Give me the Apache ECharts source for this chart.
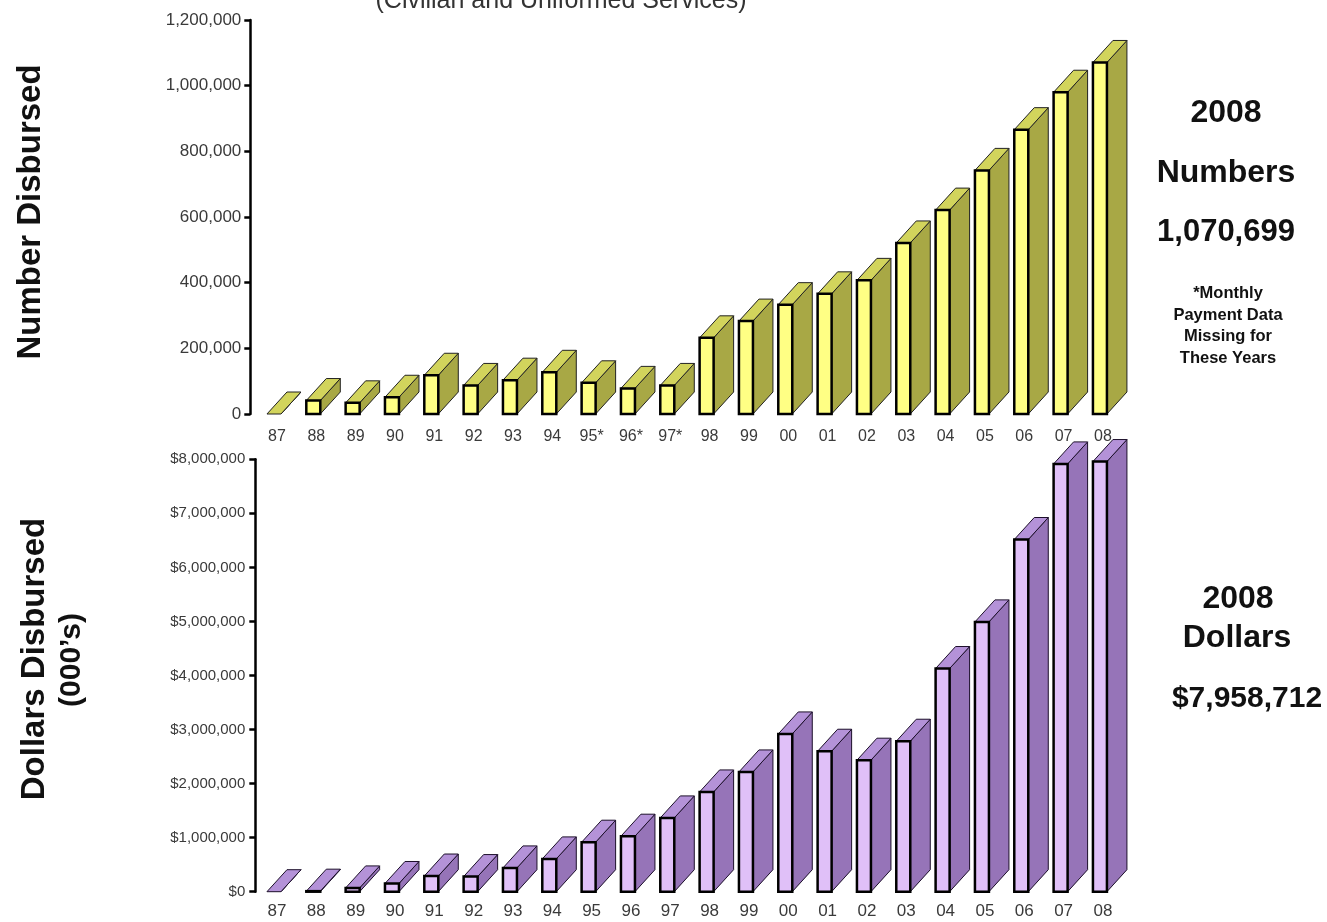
<!DOCTYPE html>
<html>
<head>
<meta charset="utf-8">
<script src="https://cdn.jsdelivr.net/npm/echarts@6/dist/echarts.min.js"></script>
<style>
  html, body { margin: 0; padding: 0; background: #fff; }
  #chart { width: 1327px; height: 922px; }
</style>
</head>
<body>
<div id="chart"></div>
<script>
// Fiscal years shown on both panels
const numberYearLabels = ['87','88','89','90','91','92','93','94','95*','96*','97*','98','99','00','01','02','03','04','05','06','07','08'];
const dollarYearLabels = ['87','88','89','90','91','92','93','94','95','96','97','98','99','00','01','02','03','04','05','06','07','08'];

// Number of disbursements per year
const numbersDisbursed = [0, 41000, 34000, 51000, 118000, 87000, 103000, 127000, 95000, 78000, 87000,
  232000, 283000, 333000, 366000, 407000, 521000, 621000, 742000, 866000, 980000, 1070699];

// Dollars disbursed per year (000's)
const dollarsDisbursed = [0, 10000, 70000, 152000, 290000, 280000, 440000, 607000, 916000, 1027000, 1365000,
  1846000, 2216000, 2919000, 2599000, 2433000, 2784000, 4129000, 4992000, 6516000, 7915000, 7958712];

// Value-axis tick labels
const numberTicks = ['0', '200,000', '400,000', '600,000', '800,000', '1,000,000', '1,200,000'];
const dollarTicks = ['$0', '$1,000,000', '$2,000,000', '$3,000,000', '$4,000,000', '$5,000,000', '$6,000,000', '$7,000,000', '$8,000,000'];

const FONT = '"Liberation Sans", Arial, sans-serif';
const DX = 20, DY = -22;        // depth of the extruded boxes
const FRONT_L = -10, FRONT_R = 4; // front face extent around the category centre

function boxRenderer(palette) {
  return function (params, api) {
    const i = api.value(0);
    const v = api.value(1);
    const base = api.coord([i, 0]);
    const top = api.coord([i, v]);
    const xl = base[0] + FRONT_L, xr = base[0] + FRONT_R;
    const yb = base[1], yt = top[1];
    const children = [
      { type: 'polygon',
        shape: { points: [[xr, yb], [xr, yt], [xr + DX, yt + DY], [xr + DX, yb + DY]] },
        style: { fill: palette.side, stroke: palette.edge, lineWidth: 1 } },
      { type: 'polygon',
        shape: { points: [[xl, yt], [xr, yt], [xr + DX, yt + DY], [xl + DX, yt + DY]] },
        style: { fill: palette.top, stroke: palette.edge, lineWidth: 1 } }
    ];
    if (v > 0) {
      children.push({ type: 'rect',
        shape: { x: xl, y: yt, width: xr - xl, height: yb - yt },
        style: { fill: palette.front, stroke: '#000', lineWidth: 2.5 } });
    }
    return { type: 'group', children: children };
  };
}

const yellow = { front: '#FFFF84', side: '#A8A845', top: '#D2D45C', edge: '#222' };
const purple = { front: '#E0C0F8', side: '#9674B8', top: '#B492D8', edge: '#1c0f2a' };

function labelStyle(size) {
  return { color: '#3a3a3a', fontSize: size, fontFamily: FONT };
}

function bigText(x, y, text, size) {
  return { type: 'text', x: x, y: y,
    style: { text: text, font: 'bold ' + size + 'px ' + FONT, fill: '#111', align: 'center', verticalAlign: 'middle' } };
}

function sideTitle(x, y, text, size) {
  return { type: 'text', x: x, y: y, rotation: Math.PI / 2,
    style: { text: text, font: 'bold ' + size + 'px ' + FONT, fill: '#111', align: 'center', verticalAlign: 'middle' } };
}

const chart = echarts.init(document.getElementById('chart'), null, { renderer: 'canvas' });

chart.setOption({
  backgroundColor: '#fff',
  animation: false,
  grid: [
    { left: 257.3, width: 865.3, top: 20, height: 394 },
    { left: 257.3, width: 865.3, top: 459.3, height: 432.4 }
  ],
  xAxis: [
    { type: 'category', gridIndex: 0, data: numberYearLabels,
      axisLine: { show: false }, axisTick: { show: false },
      axisLabel: Object.assign({ margin: 14.5, interval: 0 }, labelStyle(16)) },
    { type: 'category', gridIndex: 1, data: dollarYearLabels,
      axisLine: { show: false }, axisTick: { show: false },
      axisLabel: Object.assign({ margin: 11.5, interval: 0 }, labelStyle(17)) }
  ],
  yAxis: [
    { type: 'value', gridIndex: 0, min: 0, max: 1200000, interval: 200000, offset: 7,
      axisLine: { show: true, lineStyle: { color: '#000', width: 2.5 } },
      axisTick: { show: true, length: 6, lineStyle: { color: '#000', width: 2.5 } },
      splitLine: { show: false },
      axisLabel: Object.assign({ margin: 9,
        formatter: v => numberTicks[Math.round(v / 200000)] }, labelStyle(17)) },
    { type: 'value', gridIndex: 1, min: 0, max: 8000000, interval: 1000000, offset: 2,
      axisLine: { show: true, lineStyle: { color: '#000', width: 2.5 } },
      axisTick: { show: true, length: 6, lineStyle: { color: '#000', width: 2.5 } },
      splitLine: { show: false },
      axisLabel: Object.assign({ margin: 10,
        formatter: v => dollarTicks[Math.round(v / 1000000)] }, labelStyle(15)) }
  ],
  series: [
    { type: 'custom', xAxisIndex: 0, yAxisIndex: 0, clip: false,
      data: numbersDisbursed.map((v, i) => [i, v]),
      renderItem: boxRenderer(yellow) },
    { type: 'custom', xAxisIndex: 1, yAxisIndex: 1, clip: false,
      data: dollarsDisbursed.map((v, i) => [i, v]),
      renderItem: boxRenderer(purple) }
  ],
  graphic: [
    // subtitle running off the top edge
    { type: 'text', x: 561, y: 1.5,
      style: { text: '(Civilian and Uniformed Services)', font: '25px ' + FONT, fill: '#333', align: 'center', verticalAlign: 'middle' } },
    // axis titles
    sideTitle(31, 212, 'Number Disbursed', 33),
    sideTitle(35, 659, 'Dollars Disbursed', 33),
    sideTitle(72, 660, '(000\u2019s)', 30),
    // 2008 totals, upper panel
    bigText(1226, 113, '2008', 32),
    bigText(1226, 173, 'Numbers', 32),
    bigText(1226, 232, '1,070,699', 31),
    { type: 'text', x: 1228, y: 326,
      style: { text: '*Monthly\nPayment Data\nMissing for\nThese Years', font: 'bold 16.5px ' + FONT, lineHeight: 21.7,
        fill: '#111', align: 'center', verticalAlign: 'middle' } },
    // 2008 totals, lower panel
    bigText(1238, 599, '2008', 32),
    bigText(1237, 638, 'Dollars', 32),
    bigText(1247, 699, '$7,958,712', 30)
  ]
});
</script>
</body>
</html>
